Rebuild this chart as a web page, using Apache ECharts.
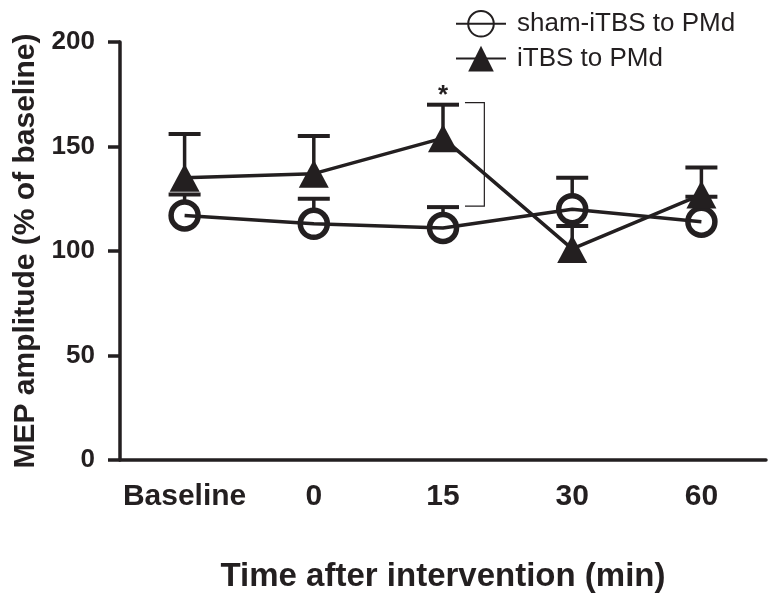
<!DOCTYPE html>
<html><head><meta charset="utf-8">
<script src="https://cdn.jsdelivr.net/npm/echarts@6/dist/echarts.min.js"></script>
<style>html,body{margin:0;padding:0;background:#fff}#c{width:777px;height:602px}</style>
</head><body><div id="c"></div>
<script>
const categories = ['Baseline', '0', '15', '30', '60'];
const shamMean = [117, 113, 111, 120, 114];
const shamUpper = [127, 125, 121, 135, 126];
const itbsMean = [135, 137, 154, 101, 127];
const itbsUpper = [156, 155, 170, 112, 140];
const yTicks = [0, 50, 100, 150, 200];
const sigIndex = 2, sigTop = 170, sigBottom = 121;

const ink = '#231f20';
const font = 'Liberation Sans, Arial, sans-serif';
const chart = echarts.init(document.getElementById('c'));

function errBars(mean, upper, gap) {
  return {
    type: 'custom', z: 1, silent: true,
    data: mean.map((m, i) => [i, m, upper[i]]),
    renderItem: function (params, api) {
      const p0 = api.coord([api.value(0), api.value(1)]);
      const p1 = api.coord([api.value(0), api.value(2)]);
      const hw = 16;
      return { type: 'group', children: [
        { type: 'line', shape: { x1: p0[0], y1: p0[1] - gap, x2: p1[0], y2: p1[1] }, style: { stroke: ink, lineWidth: 3.5 } },
        { type: 'line', shape: { x1: p1[0] - hw, y1: p1[1], x2: p1[0] + hw, y2: p1[1] }, style: { stroke: ink, lineWidth: 4 } }
      ]};
    }
  };
}

const option = {
  animation: false,
  backgroundColor: '#fff',
  grid: { left: 120, right: 11, top: 42, bottom: 142, containLabel: false },
  legend: {
    top: 5, left: 450, orient: 'vertical', itemGap: 8,
    itemWidth: 50, itemHeight: 32,
    textStyle: { fontFamily: font, fontSize: 26, color: ink, padding: [0, 0, 0, 6] },
    data: [
      { name: 'sham-iTBS to PMd' },
      { name: 'iTBS to PMd' }
    ]
  },
  xAxis: {
    type: 'category', data: categories, boundaryGap: true,
    name: 'Time after intervention (min)', nameLocation: 'middle', nameGap: 100,
    nameTextStyle: { fontFamily: font, fontWeight: 'bold', fontSize: 33, color: ink },
    axisLine: { lineStyle: { color: ink, width: 3.5 } },
    axisTick: { alignWithLabel: true, length: 12, lineStyle: { color: ink, width: 3.5 } },
    axisLabel: { interval: 0, margin: 22, fontFamily: font, fontWeight: 'bold', fontSize: 30, color: ink },
    splitLine: { show: false }
  },
  yAxis: {
    type: 'value', min: 0, max: 200, interval: 50,
    name: 'MEP amplitude (% of baseline)', nameLocation: 'middle', nameGap: 76,
    nameTextStyle: { fontFamily: font, fontWeight: 'bold', fontSize: 30, color: ink },
    axisLine: { show: true, lineStyle: { color: ink, width: 3.5 } },
    axisTick: { show: true, length: 12, lineStyle: { color: ink, width: 3.5 } },
    axisLabel: { margin: 25, fontFamily: font, fontWeight: 'bold', fontSize: 26, color: ink,
      formatter: v => yTicks.includes(v) ? String(v) : '' },
    splitLine: { show: false }
  },
  series: [
    errBars(shamMean, shamUpper, 13),
    errBars(itbsMean, itbsUpper, 10),
    {
      name: 'sham-iTBS to PMd', type: 'line', data: shamMean, z: 3,
      symbol: 'circle', symbolSize: 27,
      lineStyle: { color: ink, width: 3.5 },
      itemStyle: { color: 'rgba(255,255,255,0)', borderColor: ink, borderWidth: 5.5 }
    },
    {
      name: 'iTBS to PMd', type: 'line', data: itbsMean, z: 4,
      symbol: 'triangle', symbolSize: [30, 28],
      lineStyle: { color: ink, width: 3.5 },
      itemStyle: { color: ink, borderColor: ink, borderWidth: 0 }
    },
    {
      type: 'custom', z: 5, silent: true,
      data: [[sigIndex, sigTop, sigBottom]],
      renderItem: function (params, api) {
        const pt = api.coord([api.value(0), api.value(1)]);
        const pb = api.coord([api.value(0), api.value(2)]);
        const bw = api.size([1, 0])[0];
        const xr = pt[0] + bw * 0.32, xl = pt[0] + bw * 0.17;
        return { type: 'group', children: [
          { type: 'polyline', shape: { points: [[xl, pt[1] - 2], [xr, pt[1] - 2], [xr, pb[1] - 1], [xl, pb[1] - 1]] }, style: { stroke: ink, lineWidth: 1.2, fill: null } },
          { type: 'text', style: { text: '*', x: pt[0], y: pt[1] + 4, align: 'center', verticalAlign: 'bottom', font: 'bold 26px ' + font, fill: ink } }
        ]};
      }
    }
  ]
};
chart.setOption(option);
</script></body></html>
